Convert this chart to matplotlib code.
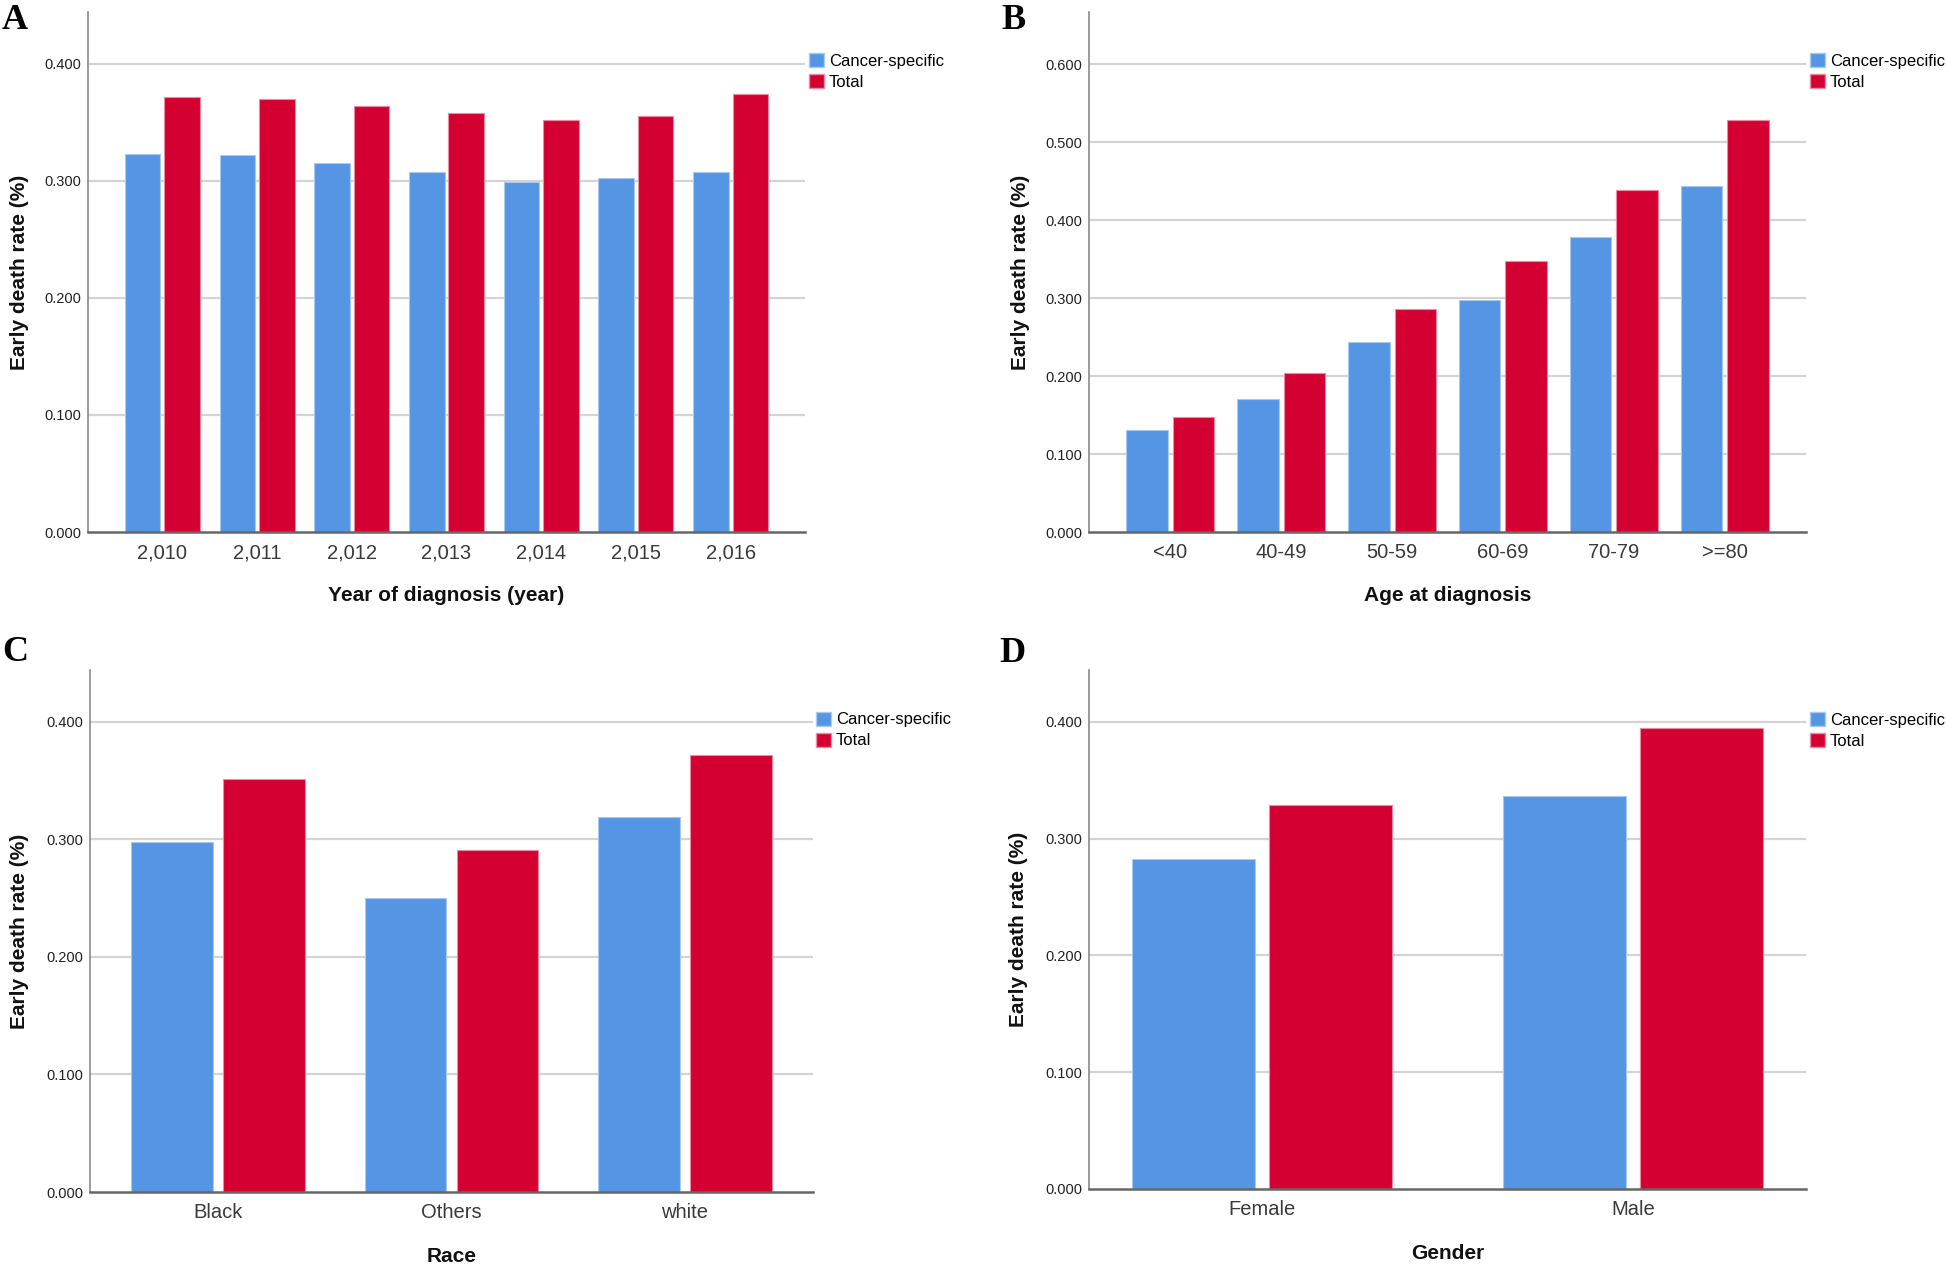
import matplotlib
matplotlib.use("Agg")
import matplotlib.pyplot as plt
import numpy as np
from matplotlib.patches import Patch

plt.rcParams['font.family'] = ['Liberation Sans', 'DejaVu Sans']

# ---- data ----
years = ["2,010", "2,011", "2,012", "2,013", "2,014", "2,015", "2,016"]
year_cs = [0.323, 0.322, 0.315, 0.307, 0.299, 0.302, 0.307]
year_total = [0.371, 0.370, 0.364, 0.358, 0.352, 0.355, 0.374]

ages = ["<40", "40-49", "50-59", "60-69", "70-79", ">=80"]
age_cs = [0.131, 0.171, 0.243, 0.298, 0.378, 0.444]
age_total = [0.147, 0.204, 0.286, 0.347, 0.439, 0.528]

races = ["Black", "Others", "white"]
race_cs = [0.298, 0.250, 0.319]
race_total = [0.351, 0.291, 0.372]

genders = ["Female", "Male"]
gender_cs = [0.283, 0.337]
gender_total = [0.329, 0.395]

series_names = ["Cancer-specific", "Total"]
yticks_A = [0.0, 0.1, 0.2, 0.3, 0.4]
yticks_B = [0.0, 0.1, 0.2, 0.3, 0.4, 0.5, 0.6]

BLUE = "#5596E4"
BLUE_EDGE = "#a9c9f1"
RED = "#D50032"
RED_EDGE = "#ee8aa0"
GRID = "#d4d4d4"

W, H = 1946, 1267
fig = plt.figure(figsize=(W / 100, H / 100), dpi=100)


def make_axes(left, right, top, bottom):
    return fig.add_axes([left / W, 1 - bottom / H, (right - left) / W, (bottom - top) / H])


def panel(ax, cats, cs, tot, ymax, yticks, xlabel, bw, gap, xpad,
          legend_x, legend_top, ylab_x, xlab_y):
    x = np.arange(len(cats))
    off = bw / 2 + gap / 2
    ax.bar(x - off, cs, width=bw, color=BLUE, edgecolor=BLUE_EDGE, linewidth=0.8, zorder=3)
    ax.bar(x + off, tot, width=bw, color=RED, edgecolor=RED_EDGE, linewidth=0.8, zorder=3)
    ax.set_xlim(-xpad, len(cats) - 1 + xpad)
    ax.set_ylim(0, ymax)
    ax.set_yticks(yticks)
    ax.set_yticklabels([f"{v:.3f}" for v in yticks], fontsize=10.5, color="#222222")
    ax.set_xticks(x)
    ax.set_xticklabels(cats, fontsize=14.5, color="#3a3a3a")
    ax.tick_params(axis="both", length=0)
    ax.tick_params(axis="x", pad=8)
    ax.tick_params(axis="y", pad=5)
    for t in yticks[1:]:
        ax.axhline(t, color=GRID, linewidth=1.6, zorder=1)
    for s in ["top", "right"]:
        ax.spines[s].set_visible(False)
    ax.spines["left"].set_color("#8a8a8a")
    ax.spines["left"].set_linewidth(1.2)
    ax.spines["bottom"].set_color("#666666")
    ax.spines["bottom"].set_linewidth(1.8)
    ax.spines["bottom"].set_zorder(4)
    ax.set_ylabel("Early death rate (%)", fontsize=15, fontweight="bold", color="#111111")
    ax.yaxis.set_label_coords(ylab_x, 0.5)
    ax.yaxis.label.set_va("center")
    ax.set_xlabel(xlabel, fontsize=15, fontweight="bold", color="#111111")
    ax.xaxis.set_label_coords(0.5, xlab_y)
    ax.xaxis.label.set_va("center")
    handles = [Patch(facecolor=BLUE, edgecolor=BLUE_EDGE), Patch(facecolor=RED, edgecolor=RED_EDGE)]
    ax.legend(handles, series_names, loc="upper left", bbox_to_anchor=(legend_x, legend_top),
              frameon=False, fontsize=12, handlelength=0.9, handleheight=0.9,
              handletextpad=0.3, labelspacing=0.32, borderpad=0, borderaxespad=0)


axA = make_axes(88, 805, 12, 532)
panel(axA, years, year_cs, year_total, 0.444, yticks_A, "Year of diagnosis (year)",
      0.375, 0.042, 0.785, 1.0056, 0.921, -0.0955, -0.122)

axB = make_axes(1089, 1806, 12, 532)
panel(axB, ages, age_cs, age_total, 0.6667, yticks_B, "Age at diagnosis",
      0.37, 0.045, 0.73, 1.0056, 0.921, -0.096, -0.122)

axC = make_axes(90, 813, 670, 1192)
panel(axC, races, race_cs, race_total, 0.444, yticks_A, "Race",
      0.351, 0.043, 0.548, 1.0042, 0.92, -0.098, -0.124)

axD = make_axes(1089, 1806, 670, 1189)
panel(axD, genders, gender_cs, gender_total, 0.4445, yticks_A, "Gender",
      0.332, 0.038, 0.466, 1.0056, 0.919, -0.098, -0.124)

for lab, (px, py) in zip("ABCD", [(2, 4), (1001, 4), (2, 636), (999, 637)]):
    fig.text(px / W, 1 - py / H, lab, fontsize=26, fontweight="bold",
             family=["Liberation Serif", "DejaVu Serif"], va="top", ha="left")

fig.savefig("out.png", dpi=100)
